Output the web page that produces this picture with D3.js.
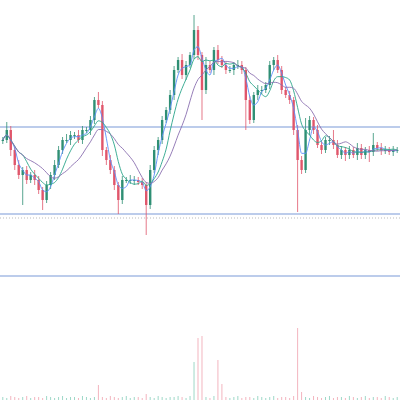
<!DOCTYPE html>
<html><head><meta charset="utf-8">
<script src="https://cdn.jsdelivr.net/npm/d3@7"></script>
<style>body{margin:0;background:#fff}</style></head>
<body><svg id="c" width="400" height="400"></svg>
<script>
// closes (price units)
const closes = [96,106,86,71,61,66,56,61,56,46,36,51,61,71,86,96,96,101,101,96,106,106,116,136,131,86,76,66,51,36,56,56,56,56,54,51,31,66,86,96,116,126,141,166,176,161,171,181,206,181,146,171,166,186,176,171,166,166,171,171,166,136,116,141,146,146,151,171,176,166,146,141,136,106,76,66,106,116,106,91,86,96,96,91,81,86,81,86,81,88,81,86,84,91,88,86,86,84,86,86];
// extra wick length below / above the body, mostly small
const lowWick = [4,3,6,5,4,30,4,3,5,4,10,3,4,5,3,4,3,5,4,3,4,3,5,4,3,6,5,4,5,14,4,3,4,5,3,4,30,4,3,5,4,3,4,5,3,4,5,3,4,5,30,4,3,5,4,3,4,3,5,4,4,30,4,3,5,4,3,4,5,3,4,3,4,5,52,4,3,5,4,3,4,3,5,4,3,4,6,4,3,5,4,4,10,4,3,5,4,3,4,3];
const highWick = [3,8,4,3,5,3,4,3,5,4,3,4,3,5,4,3,6,4,3,5,4,3,4,3,8,4,3,5,4,3,4,3,5,4,3,4,3,5,4,3,4,3,5,4,3,6,4,3,15,4,3,8,4,3,5,4,3,4,3,5,4,3,4,3,5,4,3,4,3,5,4,3,4,3,5,4,12,4,3,5,4,3,4,10,5,4,3,4,3,5,4,3,4,12,3,5,4,3,4,3];
const volumes = [3,2,4,3,2,3,4,2,3,3,2,4,3,2,3,4,2,3,3,2,4,3,2,3,15,3,2,4,3,2,3,4,2,3,3,2,6,3,2,4,3,2,3,3,4,3,2,4,38,62,64,3,2,4,40,16,3,2,3,4,2,3,3,2,4,3,2,3,4,2,3,3,2,4,72,8,3,2,4,3,2,3,4,2,3,3,2,4,3,2,3,4,2,3,3,2,4,3,2,3];
const levels = [109, 22];
const dotted = 18;

const svg = d3.select('#c');
const x = d3.scaleBand().domain(d3.range(closes.length)).range([0, 400]).padding(0.4);
const y = d3.scaleLinear().domain([0, 236]).range([236, 0]);
const yv = d3.scaleLinear().domain([0, 80]).range([400, 320]);

levels.forEach(l => svg.append('line').attr('x1', 0).attr('x2', 400)
  .attr('y1', y(l)).attr('y2', y(l)).attr('stroke', '#7a9ad8').attr('stroke-width', 1.2));
svg.append('line').attr('x1', 0).attr('x2', 400).attr('y1', y(dotted)).attr('y2', y(dotted))
  .attr('stroke', '#bbb').attr('stroke-dasharray', '1,2');
svg.append('line').attr('x1', 0).attr('x2', 400).attr('y1', 276).attr('y2', 276)
  .attr('stroke', '#7a9ad8').attr('stroke-width', 1.2);

const opens = closes.map((c, i) => i ? closes[i - 1] : c);
const up = i => closes[i] >= opens[i];
const col = i => up(i) ? '#2f8f74' : '#e0566b';

const g = svg.append('g');
closes.forEach((c, i) => {
  const cx = x(i) + x.bandwidth() / 2;
  const top = Math.max(c, opens[i]), bot = Math.min(c, opens[i]);
  g.append('line').attr('x1', cx).attr('x2', cx)
    .attr('y1', y(top + highWick[i])).attr('y2', y(bot - lowWick[i]))
    .attr('stroke', col(i)).attr('stroke-width', 0.8);
  g.append('rect').attr('x', x(i)).attr('width', x.bandwidth())
    .attr('y', y(top)).attr('height', Math.max(1, y(bot) - y(top))).attr('fill', col(i));
  g.append('line').attr('x1', cx).attr('x2', cx).attr('y1', yv(volumes[i])).attr('y2', 400)
    .attr('stroke', up(i) ? '#9fd8c8' : '#f3b5bf').attr('stroke-width', 1);
});

const ma = n => closes.map((c, i) => d3.mean(closes.slice(Math.max(0, i - n + 1), i + 1)));
const line = d3.line().x((d, i) => x(i) + x.bandwidth() / 2).y(d => y(d)).curve(d3.curveMonotoneX);
[[3, '#5b8ff9'], [6, '#2aa58a'], [11, '#8a6fb0']].forEach(([n, c]) =>
  svg.append('path').datum(ma(n)).attr('d', line).attr('fill', 'none')
    .attr('stroke', c).attr('stroke-width', 0.9));
</script></body></html>
